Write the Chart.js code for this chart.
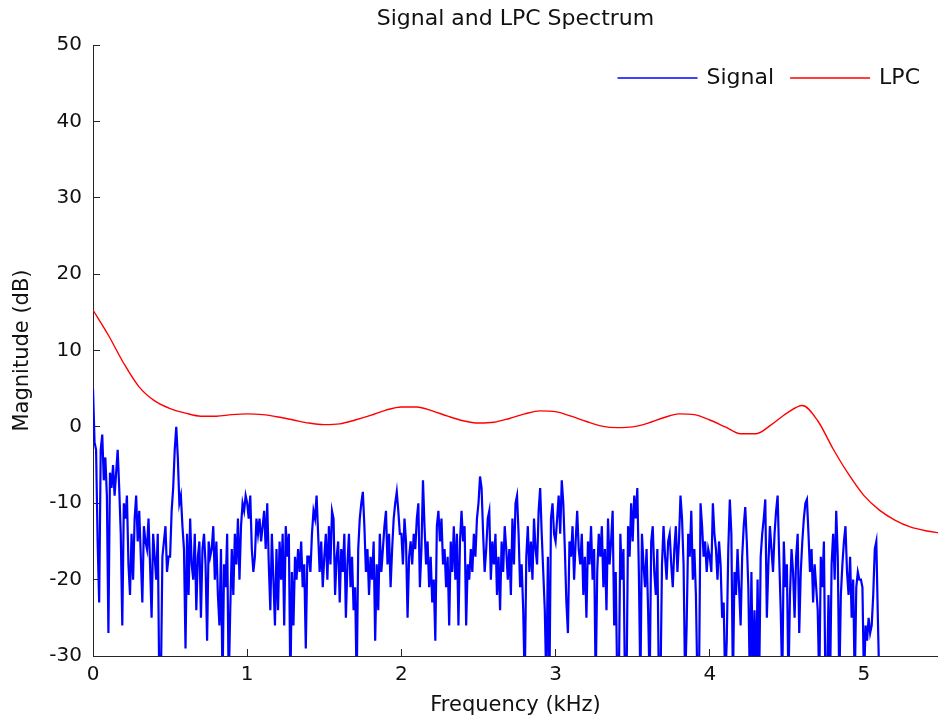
<!DOCTYPE html>
<html>
<head>
<meta charset="utf-8">
<title>Signal and LPC Spectrum</title>
<script src="https://cdn.jsdelivr.net/npm/chart.js@4/dist/chart.umd.min.js"></script>
<style>
	html, body { margin: 0; padding: 0; background: #fff; }
	#spectrum { display: block; }
</style>
</head>
<body>
<canvas id="spectrum" width="938" height="723"></canvas>
<script>
// Signal spectrum, one value every 10 Hz from 0 to 5.1 kHz (dB)
const signalStep = 0.01;
const signalDb = [
	5, -2, -3, -15, -23, -3, -1, -7, -4, -9,
	-27, -6, -8, -5, -9, -6, -3, -8, -14, -26,
	-10, -12, -9, -18, -22, -14, -20, -12, -9, -15,
	-11, -17, -23, -13, -15, -16, -12, -18, -25, -14,
	-17, -20, -14, -34, -34, -17, -15, -13, -19, -17,
	-17, -11, -8, -3, 0, -4, -10, -9, -13, -16,
	-29, -14, -22, -12, -18, -20, -14, -24, -17, -15,
	-25, -16, -14, -18, -28, -15, -17, -16, -13, -20,
	-15, -22, -26, -16, -34, -18, -21, -14, -34, -24,
	-16, -22, -14, -18, -12, -20, -13, -10, -11, -9,
	-10, -12, -9, -16, -19, -17, -12, -14, -12, -15,
	-13, -11, -16, -10, -18, -24, -14, -20, -26, -16,
	-24, -15, -20, -14, -26, -13, -17, -14, -34, -19,
	-26, -17, -20, -16, -19, -15, -21, -18, -29, -17,
	-17, -19, -14, -11, -12, -9, -14, -19, -15, -21,
	-17, -14, -20, -13, -18, -11, -12, -22, -17, -15,
	-23, -16, -19, -14, -25, -18, -14, -21, -17, -24,
	-21, -34, -16, -12, -10, -8.5, -13, -19, -16, -22,
	-17, -20, -15, -28, -18, -24, -14, -19, -16, -13,
	-11, -18, -14, -21, -16, -12, -10, -8.5, -11, -14,
	-14, -18, -12, -15, -25, -17, -15, -18, -14, -16,
	-12, -10, -21, -16, -7, -13, -18, -15, -21, -17,
	-23, -20, -28, -13, -11, -15, -12, -18, -16, -21,
	-17, -26, -15, -19, -13, -20, -14, -26, -15, -11,
	-15, -13, -26, -18, -20, -16, -19, -14, -17, -12,
	-10, -6.5, -8, -14, -19, -16, -12, -11, -20, -15,
	-18, -14, -22, -17, -24, -15, -19, -13, -16, -20,
	-16, -22, -12, -18, -10, -9, -14, -21, -18, -24,
	-34, -17, -13, -19, -15, -20, -12, -16, -18, -11,
	-8, -14, -19, -24, -34, -17, -34, -12, -10, -14,
	-15, -12, -9, -14, -7, -10, -16, -23, -27, -15,
	-17, -13, -20, -15, -11, -16, -18, -14, -22, -17,
	-25, -15, -18, -13, -20, -16, -34, -19, -14, -17,
	-13, -21, -16, -24, -12, -18, -15, -11, -26, -19,
	-34, -34, -14, -20, -16, -34, -34, -13, -17, -10,
	-15, -9, -12, -8, -19, -34, -14, -18, -21, -16,
	-24, -34, -15, -13, -19, -22, -16, -34, -34, -18,
	-13, -17, -20, -15, -14, -18, -21, -16, -13, -19,
	-15, -9, -12, -18, -34, -26, -14, -17, -11, -20,
	-16, -22, -34, -34, -10, -13, -17, -15, -19, -16,
	-17, -19, -10, -14, -16, -20, -15, -18, -25, -23,
	-34, -28, -16, -9.5, -14, -34, -19, -22, -16, -21,
	-26, -17, -13, -10.5, -15, -21, -34, -19, -34, -24,
	-34, -20, -34, -17, -14, -12, -9.5, -25, -18, -13,
	-16, -19, -14, -11, -9, -17, -24, -34, -15, -21,
	-18, -34, -22, -16, -19, -25, -17, -14, -27, -19,
	-15, -12, -10, -9.5, -14, -19, -16, -23, -18, -21,
	-24, -34, -17, -21, -15, -34, -34, -22, -34, -18,
	-14, -20, -11, -17, -34, -22, -18, -15, -13, -19,
	-22, -17, -25, -20, -34, -21, -19, -20, -20, -21,
	-34, -26, -28, -25, -27, -26, -22, -16, -15, -25,
	-34
];

// LPC envelope, every 100 Hz from 0 to 5.5 kHz (dB)
const lpcFreq = [
	0, 0.1, 0.2, 0.3, 0.4, 0.5, 0.6, 0.7, 0.8, 0.9,
	1.0, 1.1, 1.2, 1.3, 1.4, 1.5, 1.6, 1.7, 1.8, 1.9,
	2.0, 2.1, 2.2, 2.3, 2.4, 2.5, 2.6, 2.7, 2.8, 2.9,
	3.0, 3.1, 3.2, 3.3, 3.4, 3.5, 3.6, 3.7, 3.8, 3.9,
	4.0, 4.1, 4.2, 4.3, 4.4, 4.5, 4.6, 4.7, 4.8, 4.9,
	5.0, 5.1, 5.2, 5.3, 5.4, 5.5
];
const lpcDb = [
	15.3, 12.0, 8.3, 5.2, 3.4, 2.4, 1.8, 1.4, 1.4, 1.6,
	1.7, 1.6, 1.3, 0.9, 0.5, 0.3, 0.4, 0.9, 1.5, 2.2,
	2.6, 2.6, 2.1, 1.4, 0.8, 0.5, 0.6, 1.1, 1.7, 2.1,
	2.0, 1.4, 0.7, 0.1, -0.1, 0.0, 0.5, 1.2, 1.7, 1.6,
	0.9, 0.0, -0.9, -0.9, 0.3, 1.8, 2.8, 0.8, -2.9, -6.2,
	-9.0, -10.9, -12.2, -13.1, -13.6, -13.9
];

const xTicks = [0, 1, 2, 3, 4, 5];
const yTicks = [-30, -20, -10, 0, 10, 20, 30, 40, 50];

const fontFamily = "'DejaVu Sans', sans-serif";
const axisColor = '#262626';
const textColor = '#111';

const signalPoints = signalDb.map((v, i) => ({ x: i * signalStep, y: v }));
const lpcPoints = lpcDb.map((v, i) => ({ x: lpcFreq[i], y: v }));

// legend drawn as one row inside the top-right corner of the plot (MATLAB style)
const insideLegend = {
	id: 'insideLegend',
	afterDraw(chart) {
		const ctx = chart.ctx;
		const area = chart.chartArea;
		const sampleWidth = 80;
		const textGap = 9;
		const itemGap = 16;
		const y = area.top + 33;

		ctx.save();
		ctx.font = '22px ' + fontFamily;
		ctx.textBaseline = 'middle';
		ctx.textAlign = 'left';

		const items = chart.data.datasets.map(ds => ({
			label: ds.label,
			color: ds.borderColor,
			width: sampleWidth + textGap + ctx.measureText(ds.label).width
		}));
		const total = items.reduce((s, it) => s + it.width, 0) + itemGap * (items.length - 1);
		let x = area.right - 18 - total;

		items.forEach(it => {
			ctx.strokeStyle = it.color;
			ctx.lineWidth = 1.5;
			ctx.beginPath();
			ctx.moveTo(x, y);
			ctx.lineTo(x + sampleWidth, y);
			ctx.stroke();
			ctx.fillStyle = textColor;
			ctx.fillText(it.label, x + sampleWidth + textGap, y);
			x += it.width + itemGap;
		});
		ctx.restore();
	}
};

const chart = new Chart(document.getElementById('spectrum'), {
	type: 'line',
	data: {
		datasets: [{
			label: 'Signal',
			data: signalPoints,
			borderColor: '#0000ff',
			backgroundColor: '#0000ff',
			borderWidth: 2.2,
			pointRadius: 0,
			tension: 0
		}, {
			label: 'LPC',
			data: lpcPoints,
			borderColor: '#ff0000',
			backgroundColor: '#ff0000',
			borderWidth: 1.4,
			pointRadius: 0,
			cubicInterpolationMode: 'monotone'
		}]
	},
	options: {
		responsive: false,
		animation: false,
		devicePixelRatio: 1,
		layout: { padding: 0 },
		scales: {
			x: {
				type: 'linear',
				min: 0,
				max: 5.48,
				afterFit: (scale) => { scale.height = 67; },
				afterBuildTicks: (scale) => { scale.ticks = xTicks.map(v => ({ value: v })); },
				border: { display: true, color: axisColor, width: 1 },
				grid: { drawOnChartArea: false, drawTicks: true, tickLength: -7, color: axisColor },
				ticks: { padding: 14, color: textColor, font: { family: fontFamily, size: 20 }, maxRotation: 0 },
				title: {
					display: true,
					text: 'Frequency (kHz)',
					color: textColor,
					font: { family: fontFamily, size: 21 },
					padding: { top: 0, bottom: 5 }
				}
			},
			y: {
				min: -30,
				max: 50,
				afterFit: (scale) => { scale.width = 93; },
				afterBuildTicks: (scale) => { scale.ticks = yTicks.map(v => ({ value: v })); },
				border: { display: true, color: axisColor, width: 1 },
				grid: { drawOnChartArea: false, drawTicks: true, tickLength: -7, color: axisColor },
				ticks: { padding: 18, color: textColor, font: { family: fontFamily, size: 20 } },
				title: {
					display: true,
					text: 'Magnitude (dB)',
					color: textColor,
					font: { family: fontFamily, size: 21 },
					padding: { top: 10, bottom: 0 }
				}
			}
		},
		plugins: {
			title: {
				display: true,
				text: 'Signal and LPC Spectrum',
				color: textColor,
				fullSize: false,
				font: { family: fontFamily, size: 22, weight: 'normal' },
				padding: { top: 6, bottom: 12.6 }
			},
			legend: { display: false },
			tooltip: { enabled: false }
		}
	},
	plugins: [insideLegend]
});
</script>
</body>
</html>
